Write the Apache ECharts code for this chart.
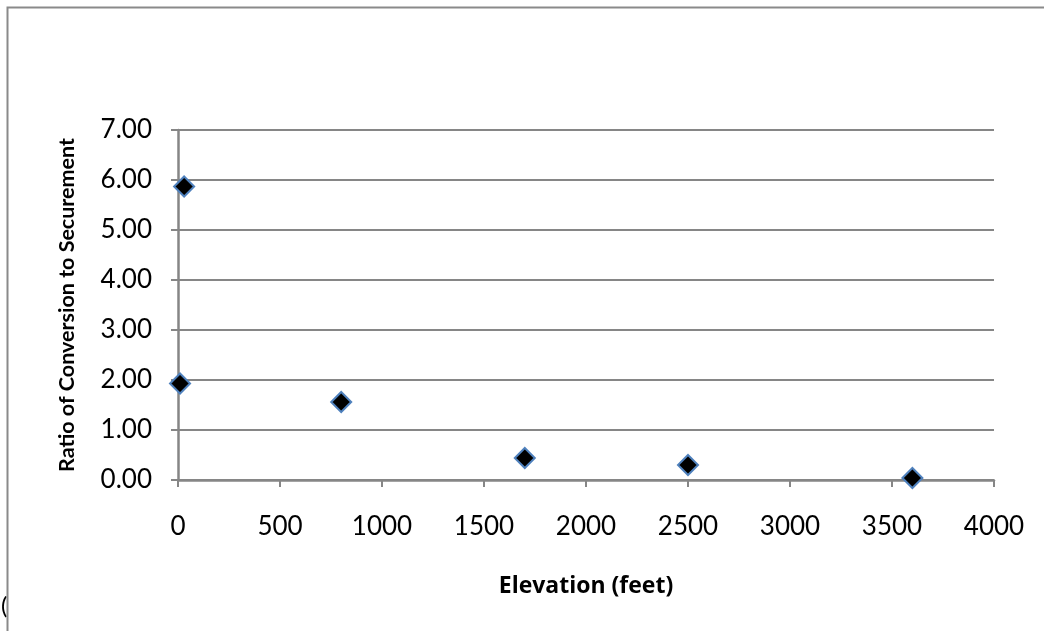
<!DOCTYPE html>
<html>
<head>
<meta charset="utf-8">
<script src="https://cdn.jsdelivr.net/npm/echarts@6/dist/echarts.min.js"></script>
<style>html,body{margin:0;padding:0;background:#fff;}#c{width:1044px;height:631px;}</style>
</head>
<body>
<div id="c"></div>
<script>
const elevation = [10, 30, 800, 1700, 2500, 3600];
const ratio = [1.93, 5.87, 1.56, 0.44, 0.30, 0.04];
const xTitle = 'Elevation (feet)';
const yTitle = 'Ratio of Conversion to Securement';

const chart = echarts.init(document.getElementById('c'));
const font = 'Lato, "Open Sans", sans-serif';
chart.setOption({
  animation: false,
  backgroundColor: '#fff',
  graphic: [
    {type: 'rect', shape: {x: 7.5, y: 7.5, width: 1100, height: 700}, style: {fill: 'none', stroke: '#8a8a8a', lineWidth: 2}, silent: true},
    {type: 'text', left: 1, top: 594, style: {text: '(', font: '24px ' + font, fill: '#000'}, z: -1}
  ],
  grid: {left: 178, right: 50, top: 130, bottom: 151, containLabel: false},
  xAxis: {
    type: 'value', min: 0, max: 4000, interval: 500,
    name: xTitle, nameLocation: 'middle', nameGap: 95,
    nameTextStyle: {fontFamily: '"Open Sans", sans-serif', fontWeight: 'bold', fontSize: 23, color: '#000'},
    axisLine: {show: true, onZero: false, lineStyle: {color: '#868686', width: 2.5}},
    axisTick: {show: true, length: 7, lineStyle: {color: '#868686', width: 2}},
    axisLabel: {fontFamily: font, fontSize: 26, color: '#000', margin: 34, formatter: v => String(v)},
    splitLine: {show: false}
  },
  yAxis: {
    type: 'value', min: 0, max: 7, interval: 1,
    name: yTitle, nameLocation: 'middle', nameGap: 100,
    nameTextStyle: {fontFamily: font, fontWeight: 'bold', fontSize: 21.5, color: '#000'},
    axisLine: {show: true, lineStyle: {color: '#868686', width: 2.5}},
    axisTick: {show: true, length: 7, lineStyle: {color: '#868686', width: 2}},
    axisLabel: {fontFamily: font, fontSize: 26, color: '#000', margin: 26, formatter: v => v.toFixed(2)},
    splitLine: {show: true, lineStyle: {color: '#868686', width: 2}}
  },
  series: [{
    type: 'scatter',
    data: elevation.map((e, i) => [e, ratio[i]]),
    symbol: 'diamond', symbolSize: 20,
    itemStyle: {color: '#000', borderColor: '#4f81bd', borderWidth: 2, opacity: 1}
  }]
});
</script>
</body>
</html>
